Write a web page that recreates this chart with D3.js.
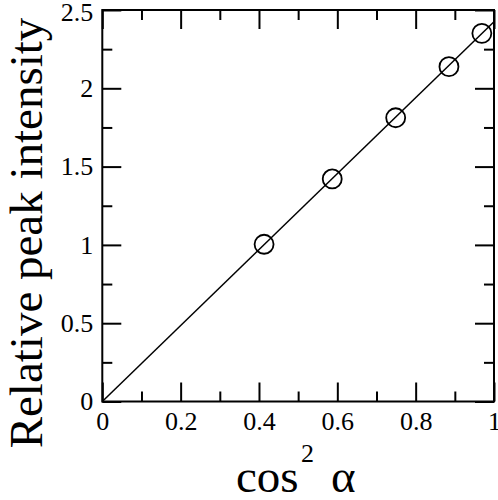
<!DOCTYPE html>
<html>
<head>
<meta charset="utf-8">
<script src="https://cdn.jsdelivr.net/npm/d3@7"></script>
<style>
  body { margin: 0; background: #fff; }
  svg { display: block; }
</style>
</head>
<body>
<div id="chart"></div>
<script>
// measured points
const cos2 = [0.413, 0.587, 0.749, 0.885, 0.969];
const intensity = [1.004, 1.421, 1.812, 2.138, 2.351];

// fitted straight line through origin
const fitX = [0, 1];
const fitY = [0, 2.425];

const xTicks = [0, 0.2, 0.4, 0.6, 0.8, 1];
const xMinor = [0.1, 0.3, 0.5, 0.7, 0.9];
const yTicks = [0, 0.5, 1, 1.5, 2, 2.5];
const yMinor = [0.25, 0.75, 1.25, 1.75, 2.25];

const serif = "Liberation Serif";
const width = 498, height = 500;
const mLeft = 102.3, mRight = 494, mTop = 10, mBottom = 401.5;

const svg = d3.select("#chart").append("svg")
  .attr("width", width)
  .attr("height", height);

const x = d3.scaleLinear().domain([0, 1]).range([mLeft, mRight]);
const y = d3.scaleLinear().domain([0, 2.5]).range([mBottom, mTop]);

const majorLen = 19, minorLen = 10;

function axisStyle(g) {
  g.attr("font-family", serif).attr("font-size", 26);
  g.select(".domain").remove();
  g.selectAll(".tick line").attr("stroke", "#000").attr("stroke-width", 2);
  g.selectAll(".tick text").attr("fill", "#000");
}

// bottom
svg.append("g").attr("transform", `translate(0,${mBottom})`)
  .call(d3.axisBottom(x).tickValues(xTicks).tickSize(-majorLen).tickPadding(10)
    .tickFormat(d => d3.format("")(d)))
  .call(axisStyle);
svg.append("g").attr("transform", `translate(0,${mBottom})`)
  .call(d3.axisBottom(x).tickValues(xMinor).tickSize(-minorLen).tickFormat(""))
  .call(axisStyle);

// top
svg.append("g").attr("transform", `translate(0,${mTop})`)
  .call(d3.axisTop(x).tickValues(xTicks).tickSize(-majorLen).tickFormat(""))
  .call(axisStyle);
svg.append("g").attr("transform", `translate(0,${mTop})`)
  .call(d3.axisTop(x).tickValues(xMinor).tickSize(-minorLen).tickFormat(""))
  .call(axisStyle);

// left
svg.append("g").attr("transform", `translate(${mLeft},0)`)
  .call(d3.axisLeft(y).tickValues(yTicks).tickSize(-majorLen).tickPadding(9)
    .tickFormat(d => d3.format("")(d)))
  .call(axisStyle)
  .call(g => g.selectAll(".tick text").filter(d => d === 2.5).attr("dy", "0.42em"));
svg.append("g").attr("transform", `translate(${mLeft},0)`)
  .call(d3.axisLeft(y).tickValues(yMinor).tickSize(-minorLen).tickFormat(""))
  .call(axisStyle);

// right
svg.append("g").attr("transform", `translate(${mRight},0)`)
  .call(d3.axisRight(y).tickValues(yTicks).tickSize(-majorLen).tickFormat(""))
  .call(axisStyle);
svg.append("g").attr("transform", `translate(${mRight},0)`)
  .call(d3.axisRight(y).tickValues(yMinor).tickSize(-minorLen).tickFormat(""))
  .call(axisStyle);

// frame
svg.append("rect")
  .attr("x", mLeft).attr("y", mTop)
  .attr("width", mRight - mLeft).attr("height", mBottom - mTop)
  .attr("fill", "none").attr("stroke", "#000").attr("stroke-width", 2);

// fit line
const fit = fitX.map((v, i) => [v, fitY[i]]);
svg.append("path")
  .datum(fit)
  .attr("fill", "none")
  .attr("stroke", "#000")
  .attr("stroke-width", 1.5)
  .attr("d", d3.line().x(d => x(d[0])).y(d => y(d[1])));

// points
const pts = cos2.map((v, i) => ({ x: v, y: intensity[i] }));
svg.append("g").selectAll("circle")
  .data(pts)
  .join("circle")
  .attr("cx", d => x(d.x))
  .attr("cy", d => y(d.y))
  .attr("r", 9.5)
  .attr("fill", "none")
  .attr("stroke", "#000")
  .attr("stroke-width", 1.8);

// y title
svg.append("text")
  .attr("transform", `translate(41.5,233) rotate(-90)`)
  .attr("text-anchor", "middle")
  .attr("font-family", serif)
  .attr("font-size", 47)
  .text("Relative peak intensity");

// x title
const xt = svg.append("text").attr("y", 491.5)
  .attr("font-family", serif)
  .attr("font-size", 47);
xt.append("tspan").attr("x", 236).text("cos");
xt.append("tspan").attr("x", 301).attr("y", 462).attr("font-size", 26).text("2");
xt.append("tspan").attr("x", 331).attr("y", 491.5).text("α");
</script>
</body>
</html>
